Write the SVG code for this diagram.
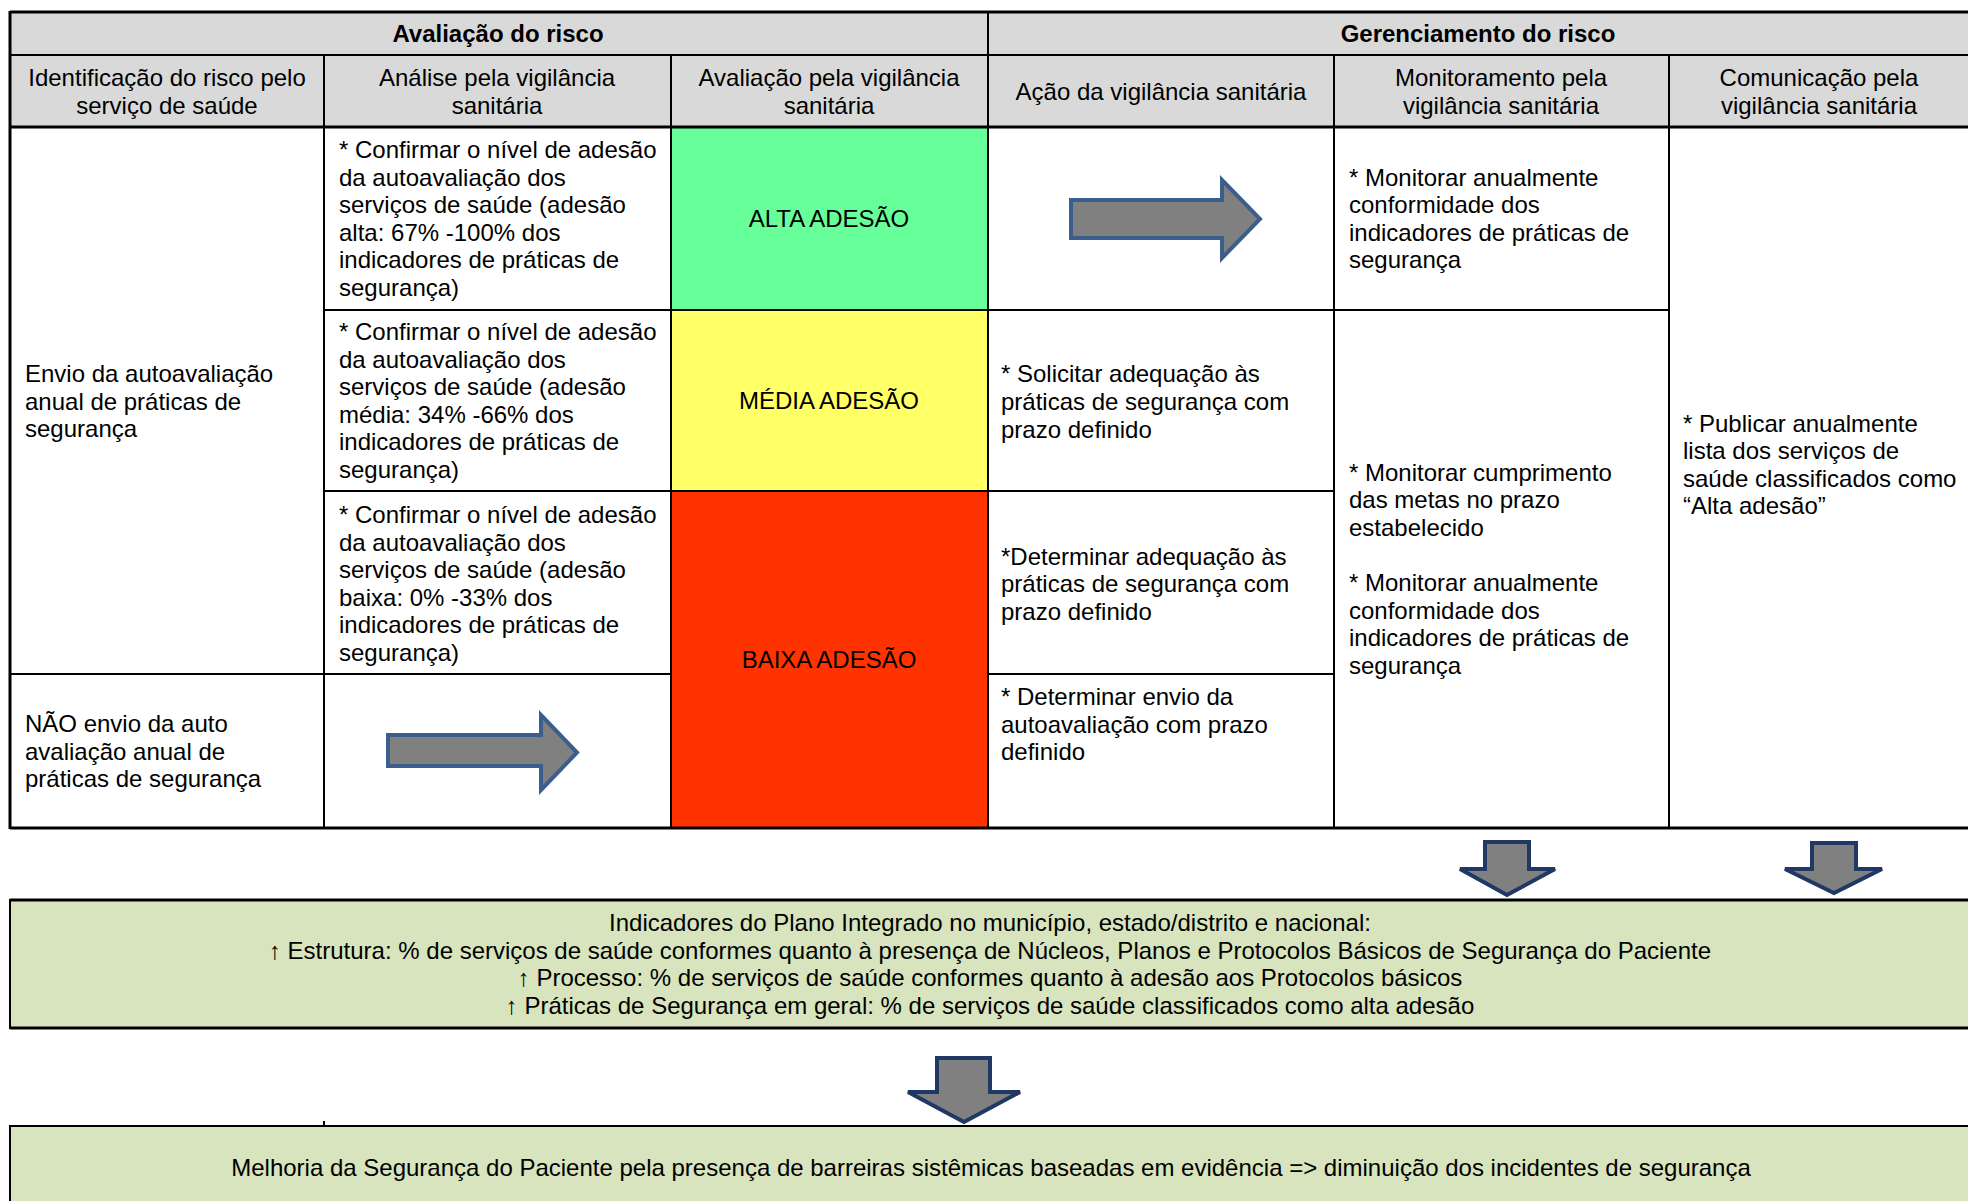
<svg xmlns="http://www.w3.org/2000/svg" width="1968" height="1201" viewBox="0 0 1968 1201">
<style>
text{font-family:"Liberation Sans",Arial,sans-serif;font-size:24px;fill:#000}
.b{font-weight:bold}
.c{text-anchor:middle}
.hdr{fill:#D9D9D9}
.ln{stroke:#000;stroke-width:2;fill:none}
.lnb{stroke:#000;stroke-width:3;fill:none}
.ra{fill:#808080;stroke:#3B5E8C;stroke-width:4;stroke-linejoin:miter}
.da{fill:#808080;stroke:#1F3864;stroke-width:4;stroke-linejoin:miter}
.box{fill:#D7E4BD}
</style>
<rect width="1968" height="1201" fill="#fff"/>

<g id="headers">
  <rect class="hdr" x="10" y="12" width="1960" height="115"/>
  <text class="b c" x="498" y="42">Avaliação do risco</text>
  <text class="b c" x="1478" y="42">Gerenciamento do risco</text>
  <text class="c" x="167" y="86">Identificação do risco pelo</text>
  <text class="c" x="167" y="114">serviço de saúde</text>
  <text class="c" x="497" y="86">Análise pela vigilância</text>
  <text class="c" x="497" y="114">sanitária</text>
  <text class="c" x="829" y="86">Avaliação pela vigilância</text>
  <text class="c" x="829" y="114">sanitária</text>
  <text class="c" x="1161" y="100">Ação da vigilância sanitária</text>
  <text class="c" x="1501" y="86">Monitoramento pela</text>
  <text class="c" x="1501" y="114">vigilância sanitária</text>
  <text class="c" x="1819" y="86">Comunicação pela</text>
  <text class="c" x="1819" y="114">vigilância sanitária</text>
</g>

<g id="col-avaliacao">
  <rect x="671" y="127" width="317" height="183" fill="#66FF99"/>
  <rect x="671" y="310" width="317" height="181" fill="#FFFF66"/>
  <rect x="671" y="491" width="317" height="337" fill="#FF3300"/>
  <text class="c" x="829" y="227">ALTA ADESÃO</text>
  <text class="c" x="829" y="409">MÉDIA ADESÃO</text>
  <text class="c" x="829" y="668">BAIXA ADESÃO</text>
</g>

<g id="grid">
  <line class="ln" x1="10" y1="55" x2="1970" y2="55"/>
  <line class="lnb" x1="10" y1="127" x2="1970" y2="127"/>
  <line class="ln" x1="324" y1="55" x2="324" y2="828"/>
  <line class="ln" x1="671" y1="55" x2="671" y2="828"/>
  <line class="ln" x1="988" y1="12" x2="988" y2="828"/>
  <line class="ln" x1="1334" y1="55" x2="1334" y2="828"/>
  <line class="ln" x1="1669" y1="55" x2="1669" y2="828"/>
  <line class="ln" x1="324" y1="310" x2="1334" y2="310"/>
  <line class="ln" x1="1334" y1="310" x2="1669" y2="310"/>
  <line class="ln" x1="324" y1="491" x2="1334" y2="491"/>
  <line class="ln" x1="10" y1="674" x2="671" y2="674"/>
  <line class="ln" x1="988" y1="674" x2="1334" y2="674"/>
  <line class="lnb" x1="10" y1="12" x2="1970" y2="12"/>
  <line class="lnb" x1="10" y1="828" x2="1970" y2="828"/>
  <line class="lnb" x1="10" y1="11" x2="10" y2="829"/>
</g>

<g id="col-identificacao">
  <text x="25" y="382">Envio da autoavaliação</text>
  <text x="25" y="410">anual de práticas de</text>
  <text x="25" y="437">segurança</text>
  <text x="25" y="732">NÃO envio da auto</text>
  <text x="25" y="760">avaliação anual de</text>
  <text x="25" y="787">práticas de segurança</text>
</g>

<g id="col-analise">
  <text x="339" y="158">* Confirmar o nível de adesão</text>
  <text x="339" y="185.6">da autoavaliação dos</text>
  <text x="339" y="213.2">serviços de saúde (adesão</text>
  <text x="339" y="240.8">alta: 67% -100% dos</text>
  <text x="339" y="268.4">indicadores de práticas de</text>
  <text x="339" y="296">segurança)</text>
  <text x="339" y="340">* Confirmar o nível de adesão</text>
  <text x="339" y="367.6">da autoavaliação dos</text>
  <text x="339" y="395.2">serviços de saúde (adesão</text>
  <text x="339" y="422.8">média: 34% -66% dos</text>
  <text x="339" y="450.4">indicadores de práticas de</text>
  <text x="339" y="478">segurança)</text>
  <text x="339" y="523">* Confirmar o nível de adesão</text>
  <text x="339" y="550.6">da autoavaliação dos</text>
  <text x="339" y="578.2">serviços de saúde (adesão</text>
  <text x="339" y="605.8">baixa: 0% -33% dos</text>
  <text x="339" y="633.4">indicadores de práticas de</text>
  <text x="339" y="661">segurança)</text>
</g>

<g id="col-acao">
  <text x="1001" y="382">* Solicitar adequação às</text>
  <text x="1001" y="410">práticas de segurança com</text>
  <text x="1001" y="437.5">prazo definido</text>
  <text x="1001" y="564.5">*Determinar adequação às</text>
  <text x="1001" y="592">práticas de segurança com</text>
  <text x="1001" y="619.5">prazo definido</text>
  <text x="1001" y="705">* Determinar envio da</text>
  <text x="1001" y="732.5">autoavaliação com prazo</text>
  <text x="1001" y="760">definido</text>
</g>

<g id="col-monitoramento">
  <text x="1349" y="185.5">* Monitorar anualmente</text>
  <text x="1349" y="213">conformidade dos</text>
  <text x="1349" y="240.5">indicadores de práticas de</text>
  <text x="1349" y="268">segurança</text>
  <text x="1349" y="480.5">* Monitorar cumprimento</text>
  <text x="1349" y="508">das metas no prazo</text>
  <text x="1349" y="535.5">estabelecido</text>
  <text x="1349" y="591">* Monitorar anualmente</text>
  <text x="1349" y="618.5">conformidade dos</text>
  <text x="1349" y="646">indicadores de práticas de</text>
  <text x="1349" y="673.5">segurança</text>
</g>

<g id="col-comunicacao">
  <text x="1683" y="431.5">* Publicar anualmente</text>
  <text x="1683" y="459">lista dos serviços de</text>
  <text x="1683" y="486.5">saúde classificados como</text>
  <text x="1683" y="514">“Alta adesão”</text>
</g>

<g id="indicadores">
  <rect class="box" x="10" y="900" width="1960" height="128"/>
  <line class="lnb" x1="10" y1="900" x2="1970" y2="900"/>
  <line class="lnb" x1="10" y1="1028" x2="1970" y2="1028"/>
  <line class="ln" x1="10" y1="899" x2="10" y2="1029"/>
  <text class="c" x="990" y="931">Indicadores do Plano Integrado no município, estado/distrito e nacional:</text>
  <text class="c" x="990" y="958.5">↑ Estrutura: % de serviços de saúde conformes quanto à presença de Núcleos, Planos e Protocolos Básicos de Segurança do Paciente</text>
  <text class="c" x="990" y="986">↑ Processo: % de serviços de saúde conformes quanto à adesão aos Protocolos básicos</text>
  <text class="c" x="990" y="1013.5">↑ Práticas de Segurança em geral: % de serviços de saúde classificados como alta adesão</text>
</g>

<g id="melhoria">
  <rect class="box" x="10" y="1126" width="1960" height="80"/>
  <line class="ln" x1="10" y1="1126" x2="1970" y2="1126"/>
  <line class="ln" x1="10" y1="1125" x2="10" y2="1201"/>
  <line class="ln" x1="324" y1="1121" x2="324" y2="1127"/>
  <text class="c" x="991" y="1175.5">Melhoria da Segurança do Paciente pela presença de barreiras sistêmicas baseadas em evidência =&gt; diminuição dos incidentes de segurança</text>
</g>

<g id="connectors">
  <polygon class="ra" points="1071,200 1222,200 1222,180 1260,219 1222,258 1222,238 1071,238"/>
  <polygon class="ra" points="388,735 541,735 541,715 577,752.5 541,790 541,766 388,766"/>
  <polygon class="da" points="1485,842 1529,842 1529,869 1555,869 1507,895 1460,869 1485,869"/>
  <polygon class="da" points="1812,843 1856,843 1856,869 1882,869 1834,893 1785,869 1812,869"/>
  <polygon class="da" points="937,1058 990,1058 990,1092 1020,1092 964,1122 908,1092 937,1092"/>
</g>
</svg>
